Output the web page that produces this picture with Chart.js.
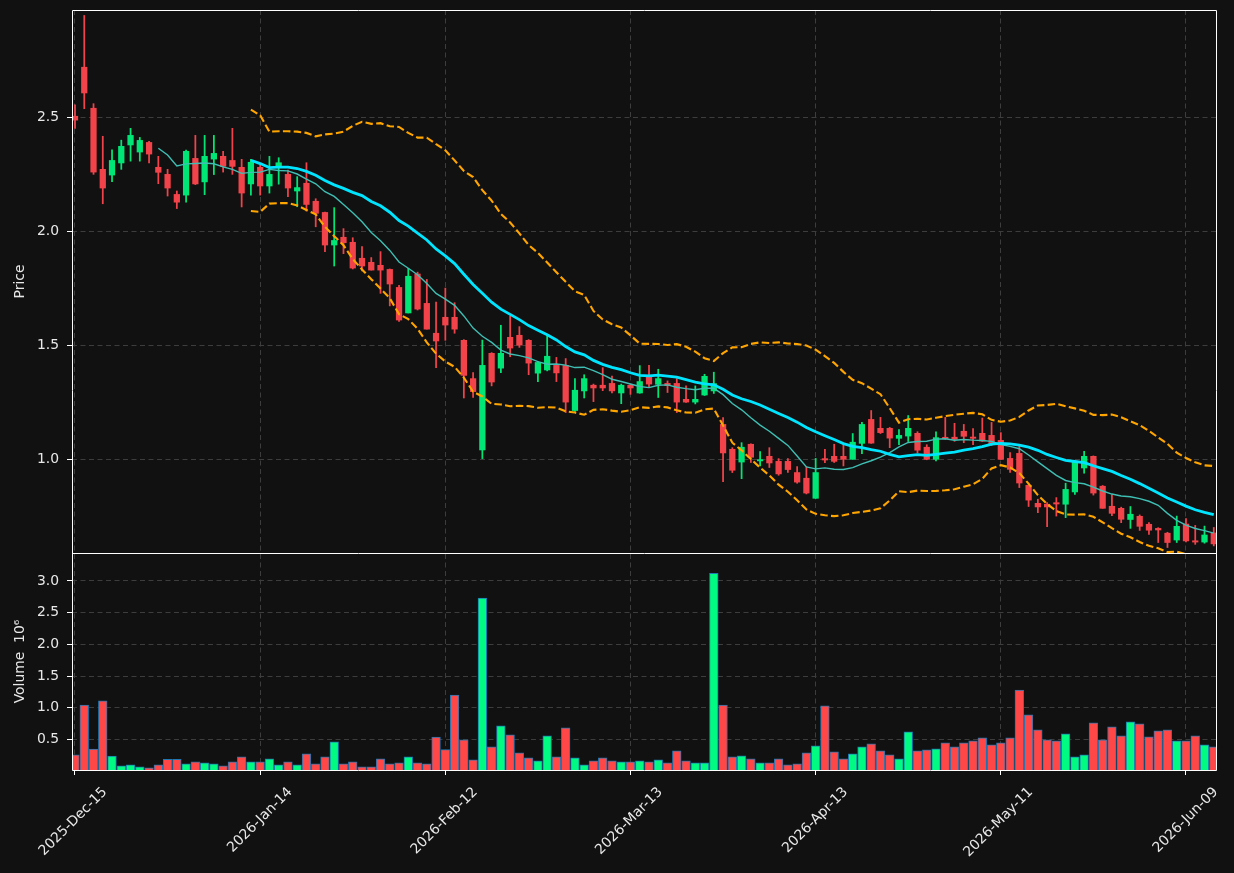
<!DOCTYPE html>
<html>
<head>
<meta charset="utf-8">
<script src="https://cdn.jsdelivr.net/npm/chart.js@4.4.1/dist/chart.umd.min.js"></script>
<style>
html,body{margin:0;padding:0;background:#111111;}
#wrap{width:1234px;height:873px;position:relative;overflow:hidden;}
canvas{display:block;}
</style>
</head>
<body>
<div id="wrap"><canvas id="c" width="1234" height="873"></canvas></div>
<script>
// ---- data (one entry per trading session) ----
const opens = [2.505,2.72,2.54,2.272,2.247,2.30,2.379,2.348,2.39,2.281,
2.25,2.162,2.159,2.32,2.217,2.317,2.329,2.311,2.281,2.208,
2.281,2.199,2.287,2.25,2.177,2.211,2.132,2.083,1.94,1.974,
1.952,1.882,1.864,1.851,1.833,1.754,1.642,1.813,1.684,1.553,
1.623,1.623,1.522,1.354,1.041,1.465,1.40,1.535,1.544,1.522,
1.378,1.392,1.412,1.412,1.214,1.30,1.325,1.325,1.333,1.291,
1.325,1.291,1.363,1.329,1.333,1.333,1.263,1.251,1.282,1.30,
1.153,1.044,0.988,1.066,0.993,1.013,0.991,0.991,0.942,0.917,
0.829,1.003,1.013,1.013,1.0,1.07,1.175,1.136,1.136,1.092,
1.102,1.114,1.053,1.0,1.095,1.097,1.123,1.097,1.114,1.105,
1.083,1.004,1.026,0.886,0.807,0.803,0.807,0.803,0.857,0.962,
1.013,0.882,0.794,0.785,0.736,0.75,0.715,0.697,0.676,0.646,
0.716,0.64,0.637,0.677];
const highs = [2.555,2.947,2.56,2.417,2.358,2.40,2.452,2.412,2.395,2.329,
2.272,2.177,2.357,2.421,2.421,2.421,2.351,2.452,2.316,2.316,
2.29,2.329,2.323,2.269,2.24,2.301,2.143,2.085,2.104,2.012,
1.972,1.933,1.885,1.911,1.835,1.763,1.838,1.821,1.789,1.69,
1.751,1.687,1.525,1.38,1.523,1.468,1.588,1.629,1.582,1.525,
1.43,1.544,1.447,1.442,1.354,1.371,1.33,1.402,1.365,1.33,
1.33,1.411,1.412,1.395,1.344,1.354,1.322,1.322,1.373,1.382,
1.183,1.051,1.073,1.068,1.034,1.051,1.003,1.003,0.968,0.968,
1.004,1.044,1.066,1.064,1.113,1.162,1.214,1.184,1.14,1.13,
1.192,1.121,1.064,1.121,1.184,1.158,1.153,1.135,1.181,1.162,
1.117,1.029,1.058,0.89,0.825,0.81,0.832,0.895,0.99,1.035,
1.015,0.885,0.845,0.79,0.793,0.756,0.722,0.70,0.68,0.751,
0.74,0.71,0.707,0.701];
const lows = [2.452,2.538,2.25,2.121,2.218,2.272,2.308,2.308,2.30,2.209,
2.155,2.10,2.128,2.205,2.161,2.249,2.26,2.25,2.107,2.159,
2.159,2.168,2.207,2.152,2.108,2.089,2.02,1.911,1.848,1.902,
1.835,1.826,1.83,1.728,1.673,1.605,1.642,1.655,1.571,1.402,
1.522,1.553,1.269,1.271,1.003,1.322,1.38,1.45,1.491,1.371,
1.341,1.388,1.341,1.205,1.21,1.269,1.253,1.301,1.291,1.244,
1.285,1.29,1.314,1.271,1.293,1.205,1.25,1.243,1.28,1.289,
0.902,0.942,0.915,0.986,0.971,0.964,0.93,0.942,0.895,0.848,
0.829,0.985,0.986,0.971,1.0,1.025,1.07,1.113,1.051,1.064,
1.078,1.029,0.998,0.993,1.088,1.079,1.073,1.064,1.078,1.06,
1.0,0.942,0.876,0.793,0.766,0.705,0.751,0.744,0.846,0.939,
0.843,0.785,0.753,0.722,0.697,0.688,0.671,0.635,0.613,0.635,
0.638,0.627,0.632,0.62];
const closes = [2.488,2.607,2.26,2.19,2.311,2.373,2.421,2.399,2.339,2.259,
2.19,2.128,2.351,2.208,2.329,2.342,2.285,2.285,2.168,2.303,
2.199,2.25,2.301,2.19,2.192,2.118,2.079,1.94,1.96,1.95,
1.839,1.848,1.83,1.83,1.769,1.611,1.803,1.659,1.571,1.519,
1.589,1.571,1.368,1.297,1.412,1.339,1.465,1.488,1.501,1.422,
1.425,1.452,1.379,1.251,1.303,1.354,1.313,1.313,1.30,1.325,
1.313,1.341,1.33,1.354,1.323,1.251,1.251,1.263,1.364,1.332,
1.028,0.952,1.053,1.009,0.997,0.984,0.936,0.955,0.90,0.852,
0.942,0.997,0.991,1.0,1.075,1.153,1.071,1.117,1.093,1.105,
1.136,1.04,1.0,1.095,1.091,1.088,1.101,1.092,1.08,1.064,
1.0,0.956,0.896,0.821,0.791,0.791,0.804,0.868,0.988,1.013,
0.852,0.785,0.763,0.737,0.759,0.706,0.689,0.69,0.635,0.706,
0.642,0.637,0.668,0.629];
const volumes = [0.26,1.045,0.35,1.11,0.24,0.086,0.10,0.07,0.055,0.10,
0.19,0.19,0.118,0.15,0.134,0.118,0.086,0.15,0.228,0.15,
0.15,0.196,0.10,0.15,0.10,0.275,0.118,0.228,0.464,0.118,
0.15,0.07,0.07,0.196,0.118,0.134,0.228,0.134,0.118,0.54,
0.34,1.20,0.495,0.18,2.728,0.385,0.715,0.574,0.29,0.212,
0.165,0.558,0.228,0.684,0.212,0.10,0.165,0.212,0.165,0.149,
0.149,0.165,0.149,0.18,0.134,0.322,0.165,0.134,0.134,3.12,
1.045,0.228,0.244,0.196,0.134,0.134,0.196,0.10,0.118,0.29,
0.40,1.03,0.307,0.196,0.275,0.385,0.432,0.322,0.26,0.196,
0.62,0.322,0.338,0.354,0.448,0.385,0.448,0.48,0.527,0.417,
0.448,0.527,1.28,0.888,0.652,0.495,0.48,0.59,0.228,0.26,
0.762,0.495,0.70,0.558,0.778,0.747,0.542,0.637,0.652,0.48,
0.48,0.558,0.417,0.385];
const tickIndex = [0,20,40,60,80,100,120];
const tickLabels = ['2025-Dec-15','2026-Jan-14','2026-Feb-12','2026-Mar-13','2026-Apr-13','2026-May-11','2026-Jun-09'];
const priceTicks = [1.0,1.5,2.0,2.5];
const volumeTicks = [0.5,1.0,1.5,2.0,2.5,3.0];
const maShort = 10, maLong = 20, bandWidth = 2;

// ---- derived indicator series (moving averages / bands of the closes) ----
function rolling(arr, n, fn){ return arr.map((v,i)=> i < n-1 ? null : fn(arr.slice(i-n+1, i+1))); }
const mean = a => a.reduce((s,v)=>s+v,0)/a.length;
const sd = a => { const m = mean(a); return Math.sqrt(a.reduce((s,v)=>s+(v-m)*(v-m),0)/a.length); };
const ma10 = rolling(closes, maShort, mean);
const ma20 = rolling(closes, maLong, mean);
const sd20 = rolling(closes, maLong, sd);
const bbUp = ma20.map((m,i)=> m===null?null : m + bandWidth*sd20[i]);
const bbLo = ma20.map((m,i)=> m===null?null : m - bandWidth*sd20[i]);
const toXY = arr => arr.map((v,i)=>({x:i,y:v})).filter(p=>p.y!==null);

const idx = closes.map((_,i)=>i);
const UP = '#00e676', DOWN = '#f2434a';
const UPV = '#00fa82', DOWNV = '#ff4747';
const isUp = i => closes[i] >= opens[i];

const FONT = {family:'DejaVu Sans', size:13.9};
const TXT = '#e8e8e8';
const GRID = '#3d3d3d';

const bg = { id:'bg', beforeDraw(c){ const x=c.ctx; x.save(); x.fillStyle='#111111'; x.fillRect(0,0,c.width,c.height); x.restore(); } };
const panelClip = {
  id:'panelClip',
  beforeDatasetDraw(c, args){
    const ds = c.data.datasets[args.index];
    const s = c.scales[ds.yAxisID];
    const ca = c.chartArea;
    c.ctx.save(); c.ctx.beginPath();
    c.ctx.rect(ca.left, s.top, ca.right-ca.left, s.bottom-s.top);
    c.ctx.clip();
  },
  afterDatasetDraw(c){ c.ctx.restore(); }
};
const spines = {
  id:'spines',
  afterDatasetsDraw(c){
    const x=c.ctx, ca=c.chartArea, yb=Math.round(c.scales.y.bottom);
    x.save(); x.strokeStyle='#ffffff'; x.lineWidth=1;
    const l=Math.round(ca.left)+0.5, r=Math.round(ca.right)-0.5, t=Math.round(ca.top)+0.5, b=Math.round(ca.bottom)+0.5;
    x.beginPath();
    x.moveTo(l,t); x.lineTo(r,t); x.lineTo(r,b); x.lineTo(l,b); x.closePath();
    x.moveTo(l,yb+0.5); x.lineTo(r,yb+0.5);
    x.stroke(); x.restore();
  }
};

const yCommon = {
  position:'left',
  stack:'panels',
  grid:{color:GRID, lineWidth:1, drawTicks:true, tickLength:5, tickColor:'#ffffff', tickWidth:1},
  border:{display:false, dash:[5,3.5]},
  ticks:{color:TXT, font:FONT, padding:8, callback:v=>Number(v).toFixed(1)},
  afterFit:s=>{ s.width = 72; s.paddingTop = 0; s.paddingBottom = 0; }
};

new Chart(document.getElementById('c'), {
  type:'bar',
  data:{
    datasets:[
      {type:'line', label:'BB upper', yAxisID:'y', data:toXY(bbUp), borderColor:'#ffa500', borderWidth:2.1, borderDash:[7.5,3.3], pointRadius:0, fill:false, tension:0},
      {type:'line', label:'BB lower', yAxisID:'y', data:toXY(bbLo), borderColor:'#ffa500', borderWidth:2.1, borderDash:[7.5,3.3], pointRadius:0, fill:false, tension:0},
      {type:'line', label:'MA20', yAxisID:'y', data:toXY(ma20), borderColor:'#00e5ff', borderWidth:2.8, pointRadius:0, fill:false, tension:0},
      {type:'line', label:'MA10', yAxisID:'y', data:toXY(ma10), borderColor:'#3fbfb4', borderWidth:1.4, pointRadius:0, fill:false, tension:0},
      {type:'bar', label:'body', yAxisID:'y', grouped:false, barThickness:5.6, minBarLength:1.3,
        data: idx.map(i=>({x:i, y:[opens[i], closes[i]]})),
        backgroundColor: c => (c.dataIndex!==undefined && isUp(c.dataIndex)) ? UP : DOWN, borderWidth:0},
      {type:'bar', label:'wick', yAxisID:'y', grouped:false, barThickness:1.1,
        data: idx.map(i=>({x:i, y:[lows[i], highs[i]]})),
        backgroundColor: c => (c.dataIndex!==undefined && isUp(c.dataIndex)) ? UP : DOWN, borderWidth:0},
      {type:'bar', label:'Volume', yAxisID:'yv', grouped:false, barThickness:8.7,
        data: idx.map(i=>({x:i, y:volumes[i]})),
        backgroundColor: c => (c.dataIndex!==undefined && isUp(c.dataIndex)) ? UPV : DOWNV,
        borderColor:'#1f77b4', borderWidth:1, borderSkipped:'start'}
    ]
  },
  options:{
    responsive:false, animation:false, devicePixelRatio:1, events:[],
    layout:{padding:{top:10, right:17, left:0, bottom:0}},
    plugins:{legend:{display:false}, tooltip:{enabled:false}},
    scales:{
      x:{
        type:'linear', min:-0.324, max:123.35, offset:false,
        grid:{offset:false, color:GRID, lineWidth:1, drawTicks:true, tickLength:5, tickColor:'#ffffff', tickWidth:1},
        border:{display:false, dash:[5,3.5]},
        afterBuildTicks:s=>{ s.ticks = tickIndex.map(v=>({value:v})); },
        ticks:{autoSkip:false, minRotation:45, maxRotation:45, color:TXT, font:FONT, padding:9, labelOffset:30,
          callback:v=>{ const k=tickIndex.indexOf(v); return k<0?'':tickLabels[k]; }},
        afterFit:s=>{ s.height = 103; s.paddingLeft = 0; s.paddingRight = 0; }
      },
      yv: Object.assign({}, yCommon, {
        min:0.02, max:3.44, stackWeight:217,
        afterBuildTicks:s=>{ s.ticks = volumeTicks.map(v=>({value:v})); },
        title:{display:true, text:'Volume  10\u2076', color:TXT, font:FONT, padding:{top:12.5, bottom:0}}
      }),
      y: Object.assign({}, yCommon, {
        min:0.589, max:2.971, stackWeight:543,
        afterBuildTicks:s=>{ s.ticks = priceTicks.map(v=>({value:v})); },
        title:{display:true, text:'Price', color:TXT, font:FONT, padding:{top:12.5, bottom:0}}
      })
    }
  },
  plugins:[bg, panelClip, spines]
});
</script>
</body>
</html>
